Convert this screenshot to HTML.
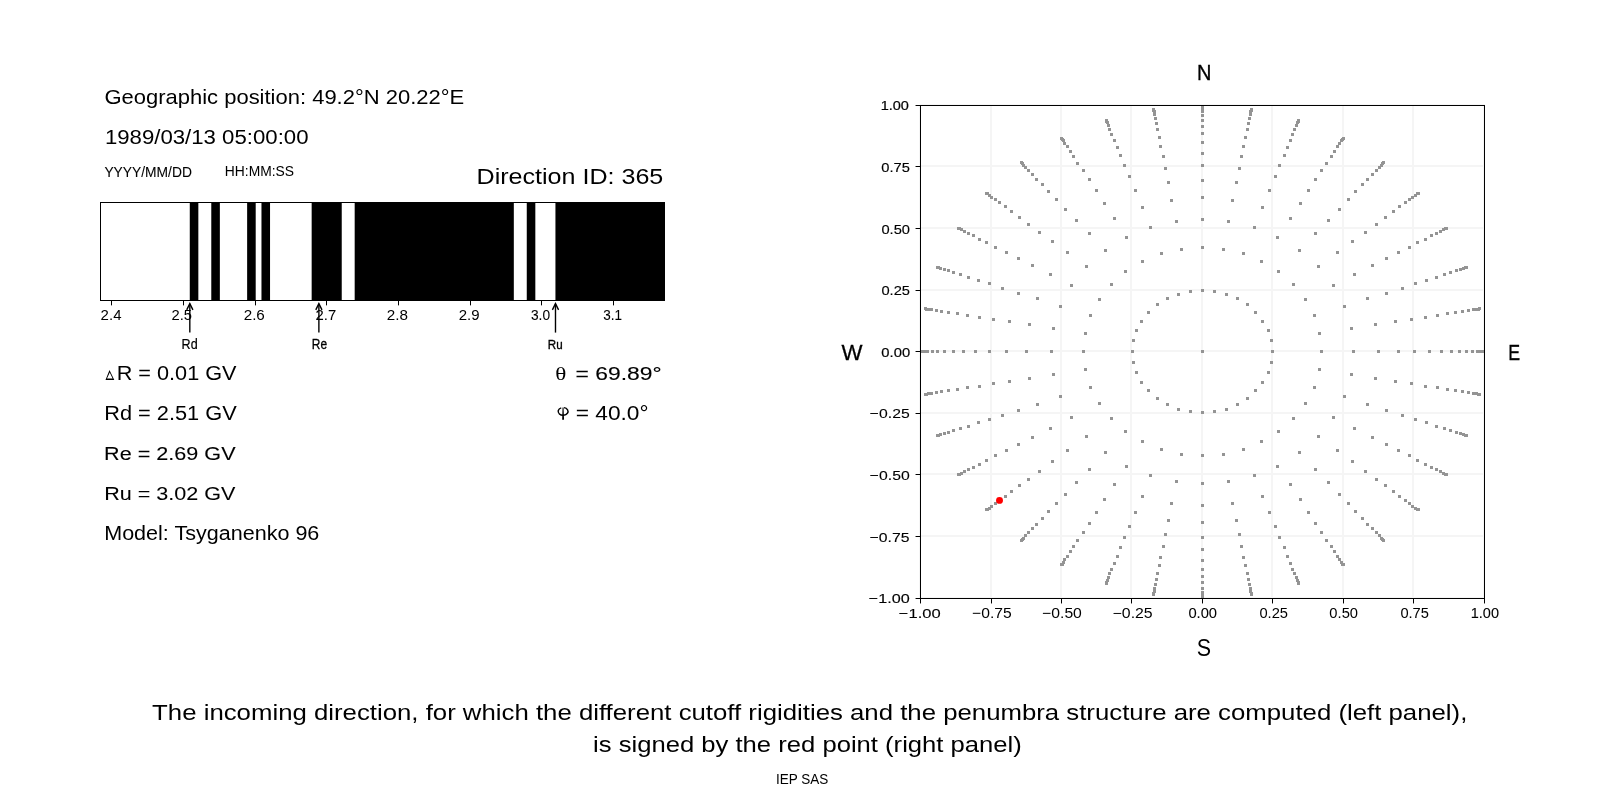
<!DOCTYPE html><html><head><meta charset="utf-8"><title>Cutoff rigidity</title><style>html,body{margin:0;padding:0;background:#fff;width:1600px;height:800px;overflow:hidden}svg{display:block;will-change:transform}text{fill:#000;white-space:pre}</style></head><body>
<svg width="1600" height="800" viewBox="0 0 1600 800">
<rect x="0" y="0" width="1600" height="800" fill="#fff"/>
<defs><clipPath id="cb"><rect x="100" y="202" width="565" height="99"/></clipPath><clipPath id="cr"><rect x="920" y="105" width="565" height="494"/></clipPath></defs>
<g clip-path="url(#cb)" fill="#000">
<rect x="189.77" y="202" width="8.57" height="99"/>
<rect x="211.28" y="202" width="8.57" height="99"/>
<rect x="247.13" y="202" width="8.57" height="99"/>
<rect x="261.47" y="202" width="8.57" height="99"/>
<rect x="311.66" y="202" width="30.08" height="99"/>
<rect x="354.68" y="202" width="159.14" height="99"/>
<rect x="526.76" y="202" width="8.57" height="99"/>
<rect x="555.44" y="202" width="202.16" height="99"/>
</g>
<g fill="#000" shape-rendering="crispEdges">
<rect x="100" y="202" width="565" height="1"/><rect x="100" y="300" width="565" height="1"/>
<rect x="100" y="202" width="1" height="99"/><rect x="664" y="202" width="1" height="99"/>
<rect x="111" y="301" width="1" height="4"/>
<rect x="183" y="301" width="1" height="4"/>
<rect x="255" y="301" width="1" height="4"/>
<rect x="326" y="301" width="1" height="4"/>
<rect x="398" y="301" width="1" height="4"/>
<rect x="470" y="301" width="1" height="4"/>
<rect x="541" y="301" width="1" height="4"/>
<rect x="613" y="301" width="1" height="4"/>
</g>
<rect x="111" y="305" width="1" height="0.6" fill="#000" opacity="0.6"/>
<rect x="183" y="305" width="1" height="0.6" fill="#000" opacity="0.6"/>
<rect x="255" y="305" width="1" height="0.6" fill="#000" opacity="0.6"/>
<rect x="326" y="305" width="1" height="0.6" fill="#000" opacity="0.6"/>
<rect x="398" y="305" width="1" height="0.6" fill="#000" opacity="0.6"/>
<rect x="470" y="305" width="1" height="0.6" fill="#000" opacity="0.6"/>
<rect x="541" y="305" width="1" height="0.6" fill="#000" opacity="0.6"/>
<rect x="613" y="305" width="1" height="0.6" fill="#000" opacity="0.6"/>
<g stroke="#000" stroke-width="1.39" fill="none" stroke-linecap="butt" stroke-linejoin="miter">
<path d="M189.82 332.6 L189.82 303.8"/>
<path d="M186.72 309.9 L189.82 303.6 L192.92 309.9"/>
<path d="M318.88 332.6 L318.88 303.8"/>
<path d="M315.78 309.9 L318.88 303.6 L321.98 309.9"/>
<path d="M555.49 332.6 L555.49 303.8"/>
<path d="M552.39 309.9 L555.49 303.6 L558.59 309.9"/>
</g>
<g fill="#f5f5f5" shape-rendering="crispEdges">
<rect x="919" y="105" width="2" height="494"/>
<rect x="920" y="597" width="565" height="2"/>
<rect x="990" y="105" width="2" height="494"/>
<rect x="920" y="535" width="565" height="2"/>
<rect x="1060" y="105" width="2" height="494"/>
<rect x="920" y="473" width="565" height="2"/>
<rect x="1130" y="105" width="2" height="494"/>
<rect x="920" y="412" width="565" height="2"/>
<rect x="1201" y="105" width="2" height="494"/>
<rect x="920" y="350" width="565" height="2"/>
<rect x="1271" y="105" width="2" height="494"/>
<rect x="920" y="289" width="565" height="2"/>
<rect x="1342" y="105" width="2" height="494"/>
<rect x="920" y="227" width="565" height="2"/>
<rect x="1412" y="105" width="2" height="494"/>
<rect x="920" y="165" width="565" height="2"/>
<rect x="1483" y="105" width="2" height="494"/>
<rect x="920" y="104" width="565" height="2"/>
</g>
<g clip-path="url(#cr)" fill="#949494" shape-rendering="crispEdges">
<rect x="1201" y="350" width="3" height="3"/>
<rect x="1271" y="350" width="3" height="3"/>
<rect x="1320" y="350" width="3" height="3"/>
<rect x="1352" y="350" width="3" height="3"/>
<rect x="1377" y="350" width="3" height="3"/>
<rect x="1397" y="350" width="3" height="3"/>
<rect x="1413" y="350" width="3" height="3"/>
<rect x="1428" y="350" width="3" height="3"/>
<rect x="1440" y="350" width="3" height="3"/>
<rect x="1450" y="350" width="3" height="3"/>
<rect x="1458" y="350" width="3" height="3"/>
<rect x="1465" y="350" width="3" height="3"/>
<rect x="1471" y="350" width="3" height="3"/>
<rect x="1476" y="350" width="3" height="3"/>
<rect x="1479" y="350" width="3" height="3"/>
<rect x="1481" y="350" width="3" height="3"/>
<rect x="1482" y="350" width="3" height="3"/>
<rect x="1270" y="339" width="3" height="3"/>
<rect x="1318" y="332" width="3" height="3"/>
<rect x="1350" y="327" width="3" height="3"/>
<rect x="1374" y="323" width="3" height="3"/>
<rect x="1394" y="320" width="3" height="3"/>
<rect x="1410" y="318" width="3" height="3"/>
<rect x="1424" y="316" width="3" height="3"/>
<rect x="1436" y="314" width="3" height="3"/>
<rect x="1446" y="312" width="3" height="3"/>
<rect x="1454" y="311" width="3" height="3"/>
<rect x="1461" y="310" width="3" height="3"/>
<rect x="1467" y="309" width="3" height="3"/>
<rect x="1472" y="308" width="3" height="3"/>
<rect x="1475" y="308" width="3" height="3"/>
<rect x="1477" y="308" width="3" height="3"/>
<rect x="1478" y="307" width="3" height="3"/>
<rect x="1267" y="329" width="3" height="3"/>
<rect x="1313" y="314" width="3" height="3"/>
<rect x="1343" y="305" width="3" height="3"/>
<rect x="1366" y="297" width="3" height="3"/>
<rect x="1385" y="292" width="3" height="3"/>
<rect x="1401" y="287" width="3" height="3"/>
<rect x="1414" y="282" width="3" height="3"/>
<rect x="1425" y="279" width="3" height="3"/>
<rect x="1435" y="276" width="3" height="3"/>
<rect x="1443" y="273" width="3" height="3"/>
<rect x="1449" y="271" width="3" height="3"/>
<rect x="1455" y="269" width="3" height="3"/>
<rect x="1459" y="268" width="3" height="3"/>
<rect x="1462" y="267" width="3" height="3"/>
<rect x="1464" y="266" width="3" height="3"/>
<rect x="1465" y="266" width="3" height="3"/>
<rect x="1261" y="320" width="3" height="3"/>
<rect x="1304" y="298" width="3" height="3"/>
<rect x="1332" y="284" width="3" height="3"/>
<rect x="1353" y="273" width="3" height="3"/>
<rect x="1371" y="264" width="3" height="3"/>
<rect x="1385" y="257" width="3" height="3"/>
<rect x="1397" y="251" width="3" height="3"/>
<rect x="1408" y="246" width="3" height="3"/>
<rect x="1416" y="241" width="3" height="3"/>
<rect x="1424" y="238" width="3" height="3"/>
<rect x="1430" y="234" width="3" height="3"/>
<rect x="1435" y="232" width="3" height="3"/>
<rect x="1439" y="230" width="3" height="3"/>
<rect x="1442" y="228" width="3" height="3"/>
<rect x="1444" y="227" width="3" height="3"/>
<rect x="1445" y="227" width="3" height="3"/>
<rect x="1254" y="311" width="3" height="3"/>
<rect x="1292" y="283" width="3" height="3"/>
<rect x="1317" y="265" width="3" height="3"/>
<rect x="1336" y="251" width="3" height="3"/>
<rect x="1351" y="240" width="3" height="3"/>
<rect x="1364" y="231" width="3" height="3"/>
<rect x="1375" y="223" width="3" height="3"/>
<rect x="1384" y="216" width="3" height="3"/>
<rect x="1392" y="210" width="3" height="3"/>
<rect x="1398" y="205" width="3" height="3"/>
<rect x="1404" y="201" width="3" height="3"/>
<rect x="1408" y="198" width="3" height="3"/>
<rect x="1411" y="196" width="3" height="3"/>
<rect x="1414" y="194" width="3" height="3"/>
<rect x="1416" y="192" width="3" height="3"/>
<rect x="1417" y="192" width="3" height="3"/>
<rect x="1246" y="303" width="3" height="3"/>
<rect x="1277" y="270" width="3" height="3"/>
<rect x="1298" y="249" width="3" height="3"/>
<rect x="1314" y="232" width="3" height="3"/>
<rect x="1327" y="219" width="3" height="3"/>
<rect x="1338" y="208" width="3" height="3"/>
<rect x="1347" y="198" width="3" height="3"/>
<rect x="1354" y="190" width="3" height="3"/>
<rect x="1361" y="183" width="3" height="3"/>
<rect x="1366" y="178" width="3" height="3"/>
<rect x="1371" y="173" width="3" height="3"/>
<rect x="1375" y="169" width="3" height="3"/>
<rect x="1378" y="166" width="3" height="3"/>
<rect x="1380" y="164" width="3" height="3"/>
<rect x="1381" y="162" width="3" height="3"/>
<rect x="1382" y="161" width="3" height="3"/>
<rect x="1236" y="297" width="3" height="3"/>
<rect x="1260" y="260" width="3" height="3"/>
<rect x="1276" y="236" width="3" height="3"/>
<rect x="1289" y="217" width="3" height="3"/>
<rect x="1299" y="202" width="3" height="3"/>
<rect x="1307" y="189" width="3" height="3"/>
<rect x="1314" y="178" width="3" height="3"/>
<rect x="1320" y="169" width="3" height="3"/>
<rect x="1325" y="162" width="3" height="3"/>
<rect x="1330" y="155" width="3" height="3"/>
<rect x="1333" y="150" width="3" height="3"/>
<rect x="1336" y="145" width="3" height="3"/>
<rect x="1338" y="142" width="3" height="3"/>
<rect x="1340" y="139" width="3" height="3"/>
<rect x="1341" y="138" width="3" height="3"/>
<rect x="1342" y="137" width="3" height="3"/>
<rect x="1225" y="293" width="3" height="3"/>
<rect x="1242" y="252" width="3" height="3"/>
<rect x="1253" y="226" width="3" height="3"/>
<rect x="1261" y="206" width="3" height="3"/>
<rect x="1268" y="189" width="3" height="3"/>
<rect x="1274" y="175" width="3" height="3"/>
<rect x="1278" y="164" width="3" height="3"/>
<rect x="1283" y="154" width="3" height="3"/>
<rect x="1286" y="146" width="3" height="3"/>
<rect x="1289" y="139" width="3" height="3"/>
<rect x="1291" y="133" width="3" height="3"/>
<rect x="1293" y="128" width="3" height="3"/>
<rect x="1295" y="124" width="3" height="3"/>
<rect x="1296" y="121" width="3" height="3"/>
<rect x="1297" y="120" width="3" height="3"/>
<rect x="1297" y="119" width="3" height="3"/>
<rect x="1213" y="290" width="3" height="3"/>
<rect x="1222" y="248" width="3" height="3"/>
<rect x="1227" y="220" width="3" height="3"/>
<rect x="1231" y="199" width="3" height="3"/>
<rect x="1235" y="181" width="3" height="3"/>
<rect x="1238" y="167" width="3" height="3"/>
<rect x="1240" y="155" width="3" height="3"/>
<rect x="1242" y="145" width="3" height="3"/>
<rect x="1244" y="136" width="3" height="3"/>
<rect x="1246" y="128" width="3" height="3"/>
<rect x="1247" y="122" width="3" height="3"/>
<rect x="1248" y="117" width="3" height="3"/>
<rect x="1249" y="113" width="3" height="3"/>
<rect x="1249" y="110" width="3" height="3"/>
<rect x="1250" y="109" width="3" height="3"/>
<rect x="1250" y="108" width="3" height="3"/>
<rect x="1201" y="289" width="3" height="3"/>
<rect x="1201" y="246" width="3" height="3"/>
<rect x="1201" y="218" width="3" height="3"/>
<rect x="1201" y="196" width="3" height="3"/>
<rect x="1201" y="179" width="3" height="3"/>
<rect x="1201" y="164" width="3" height="3"/>
<rect x="1201" y="152" width="3" height="3"/>
<rect x="1201" y="141" width="3" height="3"/>
<rect x="1201" y="132" width="3" height="3"/>
<rect x="1201" y="125" width="3" height="3"/>
<rect x="1201" y="119" width="3" height="3"/>
<rect x="1201" y="114" width="3" height="3"/>
<rect x="1201" y="110" width="3" height="3"/>
<rect x="1201" y="107" width="3" height="3"/>
<rect x="1201" y="105" width="3" height="3"/>
<rect x="1201" y="104" width="3" height="3"/>
<rect x="1189" y="290" width="3" height="3"/>
<rect x="1180" y="248" width="3" height="3"/>
<rect x="1175" y="220" width="3" height="3"/>
<rect x="1170" y="199" width="3" height="3"/>
<rect x="1167" y="181" width="3" height="3"/>
<rect x="1164" y="167" width="3" height="3"/>
<rect x="1162" y="155" width="3" height="3"/>
<rect x="1159" y="145" width="3" height="3"/>
<rect x="1158" y="136" width="3" height="3"/>
<rect x="1156" y="128" width="3" height="3"/>
<rect x="1155" y="122" width="3" height="3"/>
<rect x="1154" y="117" width="3" height="3"/>
<rect x="1153" y="113" width="3" height="3"/>
<rect x="1153" y="110" width="3" height="3"/>
<rect x="1152" y="109" width="3" height="3"/>
<rect x="1152" y="108" width="3" height="3"/>
<rect x="1177" y="293" width="3" height="3"/>
<rect x="1160" y="252" width="3" height="3"/>
<rect x="1149" y="226" width="3" height="3"/>
<rect x="1141" y="206" width="3" height="3"/>
<rect x="1134" y="189" width="3" height="3"/>
<rect x="1128" y="175" width="3" height="3"/>
<rect x="1123" y="164" width="3" height="3"/>
<rect x="1119" y="154" width="3" height="3"/>
<rect x="1116" y="146" width="3" height="3"/>
<rect x="1113" y="139" width="3" height="3"/>
<rect x="1110" y="133" width="3" height="3"/>
<rect x="1108" y="128" width="3" height="3"/>
<rect x="1107" y="124" width="3" height="3"/>
<rect x="1106" y="121" width="3" height="3"/>
<rect x="1105" y="120" width="3" height="3"/>
<rect x="1105" y="119" width="3" height="3"/>
<rect x="1166" y="297" width="3" height="3"/>
<rect x="1141" y="260" width="3" height="3"/>
<rect x="1125" y="236" width="3" height="3"/>
<rect x="1113" y="217" width="3" height="3"/>
<rect x="1103" y="202" width="3" height="3"/>
<rect x="1095" y="189" width="3" height="3"/>
<rect x="1088" y="178" width="3" height="3"/>
<rect x="1082" y="169" width="3" height="3"/>
<rect x="1076" y="162" width="3" height="3"/>
<rect x="1072" y="155" width="3" height="3"/>
<rect x="1069" y="150" width="3" height="3"/>
<rect x="1066" y="145" width="3" height="3"/>
<rect x="1063" y="142" width="3" height="3"/>
<rect x="1062" y="139" width="3" height="3"/>
<rect x="1061" y="138" width="3" height="3"/>
<rect x="1060" y="137" width="3" height="3"/>
<rect x="1156" y="303" width="3" height="3"/>
<rect x="1124" y="270" width="3" height="3"/>
<rect x="1104" y="249" width="3" height="3"/>
<rect x="1088" y="232" width="3" height="3"/>
<rect x="1075" y="219" width="3" height="3"/>
<rect x="1064" y="208" width="3" height="3"/>
<rect x="1055" y="198" width="3" height="3"/>
<rect x="1047" y="190" width="3" height="3"/>
<rect x="1041" y="183" width="3" height="3"/>
<rect x="1035" y="178" width="3" height="3"/>
<rect x="1031" y="173" width="3" height="3"/>
<rect x="1027" y="169" width="3" height="3"/>
<rect x="1024" y="166" width="3" height="3"/>
<rect x="1022" y="164" width="3" height="3"/>
<rect x="1021" y="162" width="3" height="3"/>
<rect x="1020" y="161" width="3" height="3"/>
<rect x="1147" y="311" width="3" height="3"/>
<rect x="1110" y="283" width="3" height="3"/>
<rect x="1085" y="265" width="3" height="3"/>
<rect x="1066" y="251" width="3" height="3"/>
<rect x="1051" y="240" width="3" height="3"/>
<rect x="1038" y="231" width="3" height="3"/>
<rect x="1027" y="223" width="3" height="3"/>
<rect x="1018" y="216" width="3" height="3"/>
<rect x="1010" y="210" width="3" height="3"/>
<rect x="1004" y="205" width="3" height="3"/>
<rect x="998" y="201" width="3" height="3"/>
<rect x="994" y="198" width="3" height="3"/>
<rect x="990" y="196" width="3" height="3"/>
<rect x="988" y="194" width="3" height="3"/>
<rect x="986" y="192" width="3" height="3"/>
<rect x="985" y="192" width="3" height="3"/>
<rect x="1140" y="320" width="3" height="3"/>
<rect x="1098" y="298" width="3" height="3"/>
<rect x="1070" y="284" width="3" height="3"/>
<rect x="1049" y="273" width="3" height="3"/>
<rect x="1031" y="264" width="3" height="3"/>
<rect x="1017" y="257" width="3" height="3"/>
<rect x="1005" y="251" width="3" height="3"/>
<rect x="994" y="246" width="3" height="3"/>
<rect x="985" y="241" width="3" height="3"/>
<rect x="978" y="238" width="3" height="3"/>
<rect x="972" y="234" width="3" height="3"/>
<rect x="967" y="232" width="3" height="3"/>
<rect x="963" y="230" width="3" height="3"/>
<rect x="960" y="228" width="3" height="3"/>
<rect x="958" y="227" width="3" height="3"/>
<rect x="957" y="227" width="3" height="3"/>
<rect x="1135" y="329" width="3" height="3"/>
<rect x="1089" y="314" width="3" height="3"/>
<rect x="1059" y="305" width="3" height="3"/>
<rect x="1036" y="297" width="3" height="3"/>
<rect x="1017" y="292" width="3" height="3"/>
<rect x="1001" y="287" width="3" height="3"/>
<rect x="988" y="282" width="3" height="3"/>
<rect x="977" y="279" width="3" height="3"/>
<rect x="967" y="276" width="3" height="3"/>
<rect x="959" y="273" width="3" height="3"/>
<rect x="952" y="271" width="3" height="3"/>
<rect x="947" y="269" width="3" height="3"/>
<rect x="943" y="268" width="3" height="3"/>
<rect x="939" y="267" width="3" height="3"/>
<rect x="937" y="266" width="3" height="3"/>
<rect x="936" y="266" width="3" height="3"/>
<rect x="1132" y="339" width="3" height="3"/>
<rect x="1084" y="332" width="3" height="3"/>
<rect x="1052" y="327" width="3" height="3"/>
<rect x="1028" y="323" width="3" height="3"/>
<rect x="1008" y="320" width="3" height="3"/>
<rect x="992" y="318" width="3" height="3"/>
<rect x="978" y="316" width="3" height="3"/>
<rect x="966" y="314" width="3" height="3"/>
<rect x="956" y="312" width="3" height="3"/>
<rect x="947" y="311" width="3" height="3"/>
<rect x="940" y="310" width="3" height="3"/>
<rect x="935" y="309" width="3" height="3"/>
<rect x="930" y="308" width="3" height="3"/>
<rect x="927" y="308" width="3" height="3"/>
<rect x="925" y="308" width="3" height="3"/>
<rect x="924" y="307" width="3" height="3"/>
<rect x="1131" y="350" width="3" height="3"/>
<rect x="1082" y="350" width="3" height="3"/>
<rect x="1050" y="350" width="3" height="3"/>
<rect x="1025" y="350" width="3" height="3"/>
<rect x="1005" y="350" width="3" height="3"/>
<rect x="988" y="350" width="3" height="3"/>
<rect x="974" y="350" width="3" height="3"/>
<rect x="962" y="350" width="3" height="3"/>
<rect x="952" y="350" width="3" height="3"/>
<rect x="943" y="350" width="3" height="3"/>
<rect x="936" y="350" width="3" height="3"/>
<rect x="931" y="350" width="3" height="3"/>
<rect x="926" y="350" width="3" height="3"/>
<rect x="923" y="350" width="3" height="3"/>
<rect x="920" y="350" width="3" height="3"/>
<rect x="919" y="350" width="3" height="3"/>
<rect x="1132" y="361" width="3" height="3"/>
<rect x="1084" y="368" width="3" height="3"/>
<rect x="1052" y="373" width="3" height="3"/>
<rect x="1028" y="377" width="3" height="3"/>
<rect x="1008" y="380" width="3" height="3"/>
<rect x="992" y="382" width="3" height="3"/>
<rect x="978" y="385" width="3" height="3"/>
<rect x="966" y="386" width="3" height="3"/>
<rect x="956" y="388" width="3" height="3"/>
<rect x="947" y="389" width="3" height="3"/>
<rect x="940" y="390" width="3" height="3"/>
<rect x="935" y="391" width="3" height="3"/>
<rect x="930" y="392" width="3" height="3"/>
<rect x="927" y="392" width="3" height="3"/>
<rect x="925" y="393" width="3" height="3"/>
<rect x="924" y="393" width="3" height="3"/>
<rect x="1135" y="371" width="3" height="3"/>
<rect x="1089" y="386" width="3" height="3"/>
<rect x="1059" y="395" width="3" height="3"/>
<rect x="1036" y="403" width="3" height="3"/>
<rect x="1017" y="409" width="3" height="3"/>
<rect x="1001" y="414" width="3" height="3"/>
<rect x="988" y="418" width="3" height="3"/>
<rect x="977" y="421" width="3" height="3"/>
<rect x="967" y="425" width="3" height="3"/>
<rect x="959" y="427" width="3" height="3"/>
<rect x="952" y="429" width="3" height="3"/>
<rect x="947" y="431" width="3" height="3"/>
<rect x="943" y="432" width="3" height="3"/>
<rect x="939" y="433" width="3" height="3"/>
<rect x="937" y="434" width="3" height="3"/>
<rect x="936" y="434" width="3" height="3"/>
<rect x="1140" y="381" width="3" height="3"/>
<rect x="1098" y="402" width="3" height="3"/>
<rect x="1070" y="416" width="3" height="3"/>
<rect x="1049" y="427" width="3" height="3"/>
<rect x="1031" y="436" width="3" height="3"/>
<rect x="1017" y="443" width="3" height="3"/>
<rect x="1005" y="449" width="3" height="3"/>
<rect x="994" y="454" width="3" height="3"/>
<rect x="985" y="459" width="3" height="3"/>
<rect x="978" y="463" width="3" height="3"/>
<rect x="972" y="466" width="3" height="3"/>
<rect x="967" y="468" width="3" height="3"/>
<rect x="963" y="470" width="3" height="3"/>
<rect x="960" y="472" width="3" height="3"/>
<rect x="958" y="473" width="3" height="3"/>
<rect x="957" y="473" width="3" height="3"/>
<rect x="1147" y="389" width="3" height="3"/>
<rect x="1110" y="417" width="3" height="3"/>
<rect x="1085" y="435" width="3" height="3"/>
<rect x="1066" y="449" width="3" height="3"/>
<rect x="1051" y="460" width="3" height="3"/>
<rect x="1038" y="470" width="3" height="3"/>
<rect x="1027" y="478" width="3" height="3"/>
<rect x="1018" y="484" width="3" height="3"/>
<rect x="1010" y="490" width="3" height="3"/>
<rect x="1004" y="495" width="3" height="3"/>
<rect x="994" y="502" width="3" height="3"/>
<rect x="990" y="505" width="3" height="3"/>
<rect x="988" y="507" width="3" height="3"/>
<rect x="986" y="508" width="3" height="3"/>
<rect x="985" y="508" width="3" height="3"/>
<rect x="1156" y="397" width="3" height="3"/>
<rect x="1124" y="430" width="3" height="3"/>
<rect x="1104" y="451" width="3" height="3"/>
<rect x="1088" y="468" width="3" height="3"/>
<rect x="1075" y="481" width="3" height="3"/>
<rect x="1064" y="493" width="3" height="3"/>
<rect x="1055" y="502" width="3" height="3"/>
<rect x="1047" y="510" width="3" height="3"/>
<rect x="1041" y="517" width="3" height="3"/>
<rect x="1035" y="523" width="3" height="3"/>
<rect x="1031" y="527" width="3" height="3"/>
<rect x="1027" y="531" width="3" height="3"/>
<rect x="1024" y="534" width="3" height="3"/>
<rect x="1022" y="537" width="3" height="3"/>
<rect x="1021" y="538" width="3" height="3"/>
<rect x="1020" y="539" width="3" height="3"/>
<rect x="1166" y="403" width="3" height="3"/>
<rect x="1141" y="440" width="3" height="3"/>
<rect x="1125" y="465" width="3" height="3"/>
<rect x="1113" y="483" width="3" height="3"/>
<rect x="1103" y="498" width="3" height="3"/>
<rect x="1095" y="511" width="3" height="3"/>
<rect x="1088" y="522" width="3" height="3"/>
<rect x="1082" y="531" width="3" height="3"/>
<rect x="1076" y="539" width="3" height="3"/>
<rect x="1072" y="545" width="3" height="3"/>
<rect x="1069" y="550" width="3" height="3"/>
<rect x="1066" y="555" width="3" height="3"/>
<rect x="1063" y="558" width="3" height="3"/>
<rect x="1062" y="561" width="3" height="3"/>
<rect x="1061" y="563" width="3" height="3"/>
<rect x="1060" y="563" width="3" height="3"/>
<rect x="1177" y="408" width="3" height="3"/>
<rect x="1160" y="448" width="3" height="3"/>
<rect x="1149" y="474" width="3" height="3"/>
<rect x="1141" y="495" width="3" height="3"/>
<rect x="1134" y="511" width="3" height="3"/>
<rect x="1128" y="525" width="3" height="3"/>
<rect x="1123" y="536" width="3" height="3"/>
<rect x="1119" y="546" width="3" height="3"/>
<rect x="1116" y="555" width="3" height="3"/>
<rect x="1113" y="562" width="3" height="3"/>
<rect x="1110" y="568" width="3" height="3"/>
<rect x="1108" y="572" width="3" height="3"/>
<rect x="1107" y="576" width="3" height="3"/>
<rect x="1106" y="579" width="3" height="3"/>
<rect x="1105" y="581" width="3" height="3"/>
<rect x="1105" y="582" width="3" height="3"/>
<rect x="1189" y="410" width="3" height="3"/>
<rect x="1180" y="453" width="3" height="3"/>
<rect x="1175" y="480" width="3" height="3"/>
<rect x="1170" y="502" width="3" height="3"/>
<rect x="1167" y="519" width="3" height="3"/>
<rect x="1164" y="533" width="3" height="3"/>
<rect x="1162" y="545" width="3" height="3"/>
<rect x="1159" y="556" width="3" height="3"/>
<rect x="1158" y="564" width="3" height="3"/>
<rect x="1156" y="572" width="3" height="3"/>
<rect x="1155" y="578" width="3" height="3"/>
<rect x="1154" y="583" width="3" height="3"/>
<rect x="1153" y="587" width="3" height="3"/>
<rect x="1153" y="590" width="3" height="3"/>
<rect x="1152" y="592" width="3" height="3"/>
<rect x="1152" y="593" width="3" height="3"/>
<rect x="1201" y="411" width="3" height="3"/>
<rect x="1201" y="454" width="3" height="3"/>
<rect x="1201" y="482" width="3" height="3"/>
<rect x="1201" y="504" width="3" height="3"/>
<rect x="1201" y="521" width="3" height="3"/>
<rect x="1201" y="536" width="3" height="3"/>
<rect x="1201" y="548" width="3" height="3"/>
<rect x="1201" y="559" width="3" height="3"/>
<rect x="1201" y="568" width="3" height="3"/>
<rect x="1201" y="575" width="3" height="3"/>
<rect x="1201" y="581" width="3" height="3"/>
<rect x="1201" y="587" width="3" height="3"/>
<rect x="1201" y="591" width="3" height="3"/>
<rect x="1201" y="593" width="3" height="3"/>
<rect x="1201" y="595" width="3" height="3"/>
<rect x="1201" y="596" width="3" height="3"/>
<rect x="1213" y="410" width="3" height="3"/>
<rect x="1222" y="453" width="3" height="3"/>
<rect x="1227" y="480" width="3" height="3"/>
<rect x="1231" y="502" width="3" height="3"/>
<rect x="1235" y="519" width="3" height="3"/>
<rect x="1238" y="533" width="3" height="3"/>
<rect x="1240" y="545" width="3" height="3"/>
<rect x="1242" y="556" width="3" height="3"/>
<rect x="1244" y="564" width="3" height="3"/>
<rect x="1246" y="572" width="3" height="3"/>
<rect x="1247" y="578" width="3" height="3"/>
<rect x="1248" y="583" width="3" height="3"/>
<rect x="1249" y="587" width="3" height="3"/>
<rect x="1249" y="590" width="3" height="3"/>
<rect x="1250" y="592" width="3" height="3"/>
<rect x="1250" y="593" width="3" height="3"/>
<rect x="1225" y="408" width="3" height="3"/>
<rect x="1242" y="448" width="3" height="3"/>
<rect x="1253" y="474" width="3" height="3"/>
<rect x="1261" y="495" width="3" height="3"/>
<rect x="1268" y="511" width="3" height="3"/>
<rect x="1274" y="525" width="3" height="3"/>
<rect x="1278" y="536" width="3" height="3"/>
<rect x="1283" y="546" width="3" height="3"/>
<rect x="1286" y="555" width="3" height="3"/>
<rect x="1289" y="562" width="3" height="3"/>
<rect x="1291" y="568" width="3" height="3"/>
<rect x="1293" y="572" width="3" height="3"/>
<rect x="1295" y="576" width="3" height="3"/>
<rect x="1296" y="579" width="3" height="3"/>
<rect x="1297" y="581" width="3" height="3"/>
<rect x="1297" y="582" width="3" height="3"/>
<rect x="1236" y="403" width="3" height="3"/>
<rect x="1260" y="440" width="3" height="3"/>
<rect x="1276" y="465" width="3" height="3"/>
<rect x="1289" y="483" width="3" height="3"/>
<rect x="1299" y="498" width="3" height="3"/>
<rect x="1307" y="511" width="3" height="3"/>
<rect x="1314" y="522" width="3" height="3"/>
<rect x="1320" y="531" width="3" height="3"/>
<rect x="1325" y="539" width="3" height="3"/>
<rect x="1330" y="545" width="3" height="3"/>
<rect x="1333" y="550" width="3" height="3"/>
<rect x="1336" y="555" width="3" height="3"/>
<rect x="1338" y="558" width="3" height="3"/>
<rect x="1340" y="561" width="3" height="3"/>
<rect x="1341" y="563" width="3" height="3"/>
<rect x="1342" y="563" width="3" height="3"/>
<rect x="1246" y="397" width="3" height="3"/>
<rect x="1277" y="430" width="3" height="3"/>
<rect x="1298" y="451" width="3" height="3"/>
<rect x="1314" y="468" width="3" height="3"/>
<rect x="1327" y="481" width="3" height="3"/>
<rect x="1338" y="493" width="3" height="3"/>
<rect x="1347" y="502" width="3" height="3"/>
<rect x="1354" y="510" width="3" height="3"/>
<rect x="1361" y="517" width="3" height="3"/>
<rect x="1366" y="523" width="3" height="3"/>
<rect x="1371" y="527" width="3" height="3"/>
<rect x="1375" y="531" width="3" height="3"/>
<rect x="1378" y="534" width="3" height="3"/>
<rect x="1380" y="537" width="3" height="3"/>
<rect x="1381" y="538" width="3" height="3"/>
<rect x="1382" y="539" width="3" height="3"/>
<rect x="1254" y="389" width="3" height="3"/>
<rect x="1292" y="417" width="3" height="3"/>
<rect x="1317" y="435" width="3" height="3"/>
<rect x="1336" y="449" width="3" height="3"/>
<rect x="1351" y="460" width="3" height="3"/>
<rect x="1364" y="470" width="3" height="3"/>
<rect x="1375" y="478" width="3" height="3"/>
<rect x="1384" y="484" width="3" height="3"/>
<rect x="1392" y="490" width="3" height="3"/>
<rect x="1398" y="495" width="3" height="3"/>
<rect x="1404" y="499" width="3" height="3"/>
<rect x="1408" y="502" width="3" height="3"/>
<rect x="1411" y="505" width="3" height="3"/>
<rect x="1414" y="507" width="3" height="3"/>
<rect x="1416" y="508" width="3" height="3"/>
<rect x="1417" y="508" width="3" height="3"/>
<rect x="1261" y="381" width="3" height="3"/>
<rect x="1304" y="402" width="3" height="3"/>
<rect x="1332" y="416" width="3" height="3"/>
<rect x="1353" y="427" width="3" height="3"/>
<rect x="1371" y="436" width="3" height="3"/>
<rect x="1385" y="443" width="3" height="3"/>
<rect x="1397" y="449" width="3" height="3"/>
<rect x="1408" y="454" width="3" height="3"/>
<rect x="1416" y="459" width="3" height="3"/>
<rect x="1424" y="463" width="3" height="3"/>
<rect x="1430" y="466" width="3" height="3"/>
<rect x="1435" y="468" width="3" height="3"/>
<rect x="1439" y="470" width="3" height="3"/>
<rect x="1442" y="472" width="3" height="3"/>
<rect x="1444" y="473" width="3" height="3"/>
<rect x="1445" y="473" width="3" height="3"/>
<rect x="1267" y="371" width="3" height="3"/>
<rect x="1313" y="386" width="3" height="3"/>
<rect x="1343" y="395" width="3" height="3"/>
<rect x="1366" y="403" width="3" height="3"/>
<rect x="1385" y="409" width="3" height="3"/>
<rect x="1401" y="414" width="3" height="3"/>
<rect x="1414" y="418" width="3" height="3"/>
<rect x="1425" y="421" width="3" height="3"/>
<rect x="1435" y="425" width="3" height="3"/>
<rect x="1443" y="427" width="3" height="3"/>
<rect x="1449" y="429" width="3" height="3"/>
<rect x="1455" y="431" width="3" height="3"/>
<rect x="1459" y="432" width="3" height="3"/>
<rect x="1462" y="433" width="3" height="3"/>
<rect x="1464" y="434" width="3" height="3"/>
<rect x="1465" y="434" width="3" height="3"/>
<rect x="1270" y="361" width="3" height="3"/>
<rect x="1318" y="368" width="3" height="3"/>
<rect x="1350" y="373" width="3" height="3"/>
<rect x="1374" y="377" width="3" height="3"/>
<rect x="1394" y="380" width="3" height="3"/>
<rect x="1410" y="382" width="3" height="3"/>
<rect x="1424" y="385" width="3" height="3"/>
<rect x="1436" y="386" width="3" height="3"/>
<rect x="1446" y="388" width="3" height="3"/>
<rect x="1454" y="389" width="3" height="3"/>
<rect x="1461" y="390" width="3" height="3"/>
<rect x="1467" y="391" width="3" height="3"/>
<rect x="1472" y="392" width="3" height="3"/>
<rect x="1475" y="392" width="3" height="3"/>
<rect x="1477" y="393" width="3" height="3"/>
<rect x="1478" y="393" width="3" height="3"/>
</g>
<circle cx="999.51" cy="500.40" r="3.45" fill="#ff0000"/>
<g fill="#000" shape-rendering="crispEdges">
<rect x="920" y="105" width="565" height="1"/><rect x="920" y="598" width="565" height="1"/>
<rect x="920" y="105" width="1" height="494"/><rect x="1484" y="105" width="1" height="494"/>
<rect x="920" y="599" width="1" height="4"/>
<rect x="920" y="603" width="1" height="1" fill-opacity="0.45"/>
<rect x="916" y="598" width="4" height="1"/>
<rect x="915" y="598" width="1" height="1" fill-opacity="0.45"/>
<rect x="991" y="599" width="1" height="4"/>
<rect x="991" y="603" width="1" height="1" fill-opacity="0.45"/>
<rect x="916" y="536" width="4" height="1"/>
<rect x="915" y="536" width="1" height="1" fill-opacity="0.45"/>
<rect x="1061" y="599" width="1" height="4"/>
<rect x="1061" y="603" width="1" height="1" fill-opacity="0.45"/>
<rect x="916" y="474" width="4" height="1"/>
<rect x="915" y="474" width="1" height="1" fill-opacity="0.45"/>
<rect x="1131" y="599" width="1" height="4"/>
<rect x="1131" y="603" width="1" height="1" fill-opacity="0.45"/>
<rect x="916" y="413" width="4" height="1"/>
<rect x="915" y="413" width="1" height="1" fill-opacity="0.45"/>
<rect x="1202" y="599" width="1" height="4"/>
<rect x="1202" y="603" width="1" height="1" fill-opacity="0.45"/>
<rect x="916" y="351" width="4" height="1"/>
<rect x="915" y="351" width="1" height="1" fill-opacity="0.45"/>
<rect x="1272" y="599" width="1" height="4"/>
<rect x="1272" y="603" width="1" height="1" fill-opacity="0.45"/>
<rect x="916" y="290" width="4" height="1"/>
<rect x="915" y="290" width="1" height="1" fill-opacity="0.45"/>
<rect x="1343" y="599" width="1" height="4"/>
<rect x="1343" y="603" width="1" height="1" fill-opacity="0.45"/>
<rect x="916" y="228" width="4" height="1"/>
<rect x="915" y="228" width="1" height="1" fill-opacity="0.45"/>
<rect x="1413" y="599" width="1" height="4"/>
<rect x="1413" y="603" width="1" height="1" fill-opacity="0.45"/>
<rect x="916" y="166" width="4" height="1"/>
<rect x="915" y="166" width="1" height="1" fill-opacity="0.45"/>
<rect x="1484" y="599" width="1" height="4"/>
<rect x="1484" y="603" width="1" height="1" fill-opacity="0.45"/>
<rect x="916" y="105" width="4" height="1"/>
<rect x="915" y="105" width="1" height="1" fill-opacity="0.45"/>
</g>
<path d="M561.25 407.83 A4.95 3.85 0 1 0 563.96 407.61" fill="none" stroke="#000" stroke-width="1.45"/>
<path d="M562.55 407.6 L563.55 407.6 L564.05 419.7 L562.15 419.7 Z" fill="#000"/>
<path fill-rule="evenodd" fill="#000" d="M109.5 370.1 L105.5 380 L114.3 380 Z M109.75 372.6 L107.0 378.6 L112.6 378.6 Z"/>
<text x="104.45" y="104.00" font-size="20.03" font-family='"Liberation Sans", sans-serif' text-anchor="start" textLength="359.73" lengthAdjust="spacingAndGlyphs">Geographic position: 49.2°N 20.22°E</text>
<text x="104.91" y="144.00" font-size="19.98" font-family='"Liberation Sans", sans-serif' text-anchor="start" textLength="203.58" lengthAdjust="spacingAndGlyphs">1989/03/13 05:00:00</text>
<text x="104.40" y="177.00" font-size="14.25" font-family='"Liberation Sans", sans-serif' text-anchor="start" textLength="87.50" lengthAdjust="spacingAndGlyphs" stroke="#000" stroke-width="0.07">YYYY/MM/DD</text>
<text x="224.85" y="176.00" font-size="14.04" font-family='"Liberation Sans", sans-serif' text-anchor="start" textLength="69.20" lengthAdjust="spacingAndGlyphs" stroke="#000" stroke-width="0.02">HH:MM:SS</text>
<text x="663.34" y="184.00" font-size="21.61" font-family='"Liberation Sans", sans-serif' text-anchor="end" textLength="186.81" lengthAdjust="spacingAndGlyphs">Direction ID: 365</text>
<text x="116.71" y="380.00" font-size="19.38" font-family='"Liberation Sans", sans-serif' text-anchor="start" textLength="119.80" lengthAdjust="spacingAndGlyphs">R = 0.01 GV</text>
<text x="104.21" y="420.00" font-size="20.46" font-family='"Liberation Sans", sans-serif' text-anchor="start" textLength="132.52" lengthAdjust="spacingAndGlyphs">Rd = 2.51 GV</text>
<text x="104.11" y="460.00" font-size="19.02" font-family='"Liberation Sans", sans-serif' text-anchor="start" textLength="131.46" lengthAdjust="spacingAndGlyphs" stroke="#000" stroke-width="0.10">Re = 2.69 GV</text>
<text x="104.18" y="500.00" font-size="19.07" font-family='"Liberation Sans", sans-serif' text-anchor="start" textLength="131.35" lengthAdjust="spacingAndGlyphs" stroke="#000" stroke-width="0.06">Ru = 3.02 GV</text>
<text x="104.19" y="540.00" font-size="20.39" font-family='"Liberation Sans", sans-serif' text-anchor="start" textLength="215.17" lengthAdjust="spacingAndGlyphs">Model: Tsyganenko 96</text>
<text x="555.31" y="380.00" font-size="17.81" font-family='"Liberation Serif", serif' text-anchor="start" textLength="11.09" lengthAdjust="spacingAndGlyphs">θ</text>
<text x="575.57" y="380.00" font-size="18.99" font-family='"Liberation Sans", sans-serif' text-anchor="start" textLength="86.04" lengthAdjust="spacingAndGlyphs" stroke="#000" stroke-width="0.13">= 69.89°</text>
<text x="575.71" y="420.00" font-size="19.53" font-family='"Liberation Sans", sans-serif' text-anchor="start" textLength="72.89" lengthAdjust="spacingAndGlyphs">= 40.0°</text>
<text x="152.13" y="720.00" font-size="22.10" font-family='"Liberation Sans", sans-serif' text-anchor="start" textLength="1315.18" lengthAdjust="spacingAndGlyphs">The incoming direction, for which the different cutoff rigidities and the penumbra structure are computed (left panel),</text>
<text x="593.07" y="752.00" font-size="21.84" font-family='"Liberation Sans", sans-serif' text-anchor="start" textLength="428.73" lengthAdjust="spacingAndGlyphs">is signed by the red point (right panel)</text>
<text x="775.94" y="784.00" font-size="14.72" font-family='"Liberation Sans", sans-serif' text-anchor="start" textLength="52.33" lengthAdjust="spacingAndGlyphs">IEP SAS</text>
<text x="1204.31" y="80.00" font-size="22.76" font-family='"Liberation Sans", sans-serif' text-anchor="middle" textLength="14.42" lengthAdjust="spacingAndGlyphs" stroke="#000" stroke-width="0.35">N</text>
<text x="1203.88" y="656.00" font-size="23.13" font-family='"Liberation Sans", sans-serif' text-anchor="middle" textLength="14.32" lengthAdjust="spacingAndGlyphs">S</text>
<text x="851.96" y="360.00" font-size="22.68" font-family='"Liberation Sans", sans-serif' text-anchor="middle" textLength="21.00" lengthAdjust="spacingAndGlyphs" stroke="#000" stroke-width="0.29">W</text>
<text x="1514.18" y="360.00" font-size="22.47" font-family='"Liberation Sans", sans-serif' text-anchor="middle" textLength="11.85" lengthAdjust="spacingAndGlyphs" stroke="#000" stroke-width="0.35">E</text>
<text x="111.07" y="320.00" font-size="13.96" font-family='"Liberation Sans", sans-serif' text-anchor="middle" textLength="20.86" lengthAdjust="spacingAndGlyphs">2.4</text>
<text x="181.81" y="320.00" font-size="14.64" font-family='"Liberation Sans", sans-serif' text-anchor="middle" textLength="20.52" lengthAdjust="spacingAndGlyphs">2.5</text>
<text x="254.26" y="320.00" font-size="14.12" font-family='"Liberation Sans", sans-serif' text-anchor="middle" textLength="21.16" lengthAdjust="spacingAndGlyphs">2.6</text>
<text x="325.86" y="320.00" font-size="14.72" font-family='"Liberation Sans", sans-serif' text-anchor="middle" textLength="20.67" lengthAdjust="spacingAndGlyphs" stroke="#000" stroke-width="0.04">2.7</text>
<text x="397.29" y="320.00" font-size="13.97" font-family='"Liberation Sans", sans-serif' text-anchor="middle" textLength="21.17" lengthAdjust="spacingAndGlyphs">2.8</text>
<text x="469.10" y="320.00" font-size="13.87" font-family='"Liberation Sans", sans-serif' text-anchor="middle" textLength="20.87" lengthAdjust="spacingAndGlyphs">2.9</text>
<text x="540.52" y="320.00" font-size="13.71" font-family='"Liberation Sans", sans-serif' text-anchor="middle" textLength="19.11" lengthAdjust="spacingAndGlyphs" stroke="#000" stroke-width="0.08">3.0</text>
<text x="612.54" y="320.00" font-size="13.78" font-family='"Liberation Sans", sans-serif' text-anchor="middle" textLength="18.78" lengthAdjust="spacingAndGlyphs" stroke="#000" stroke-width="0.07">3.1</text>
<text x="189.61" y="349.00" font-size="14.45" font-family='"Liberation Sans", sans-serif' text-anchor="middle" textLength="16.08" lengthAdjust="spacingAndGlyphs" stroke="#000" stroke-width="0.20">Rd</text>
<text x="319.43" y="349.00" font-size="14.32" font-family='"Liberation Sans", sans-serif' text-anchor="middle" textLength="15.24" lengthAdjust="spacingAndGlyphs" stroke="#000" stroke-width="0.30">Re</text>
<text x="555.22" y="349.00" font-size="13.57" font-family='"Liberation Sans", sans-serif' text-anchor="middle" textLength="14.84" lengthAdjust="spacingAndGlyphs" stroke="#000" stroke-width="0.35">Ru</text>
<text x="919.81" y="618.00" font-size="13.57" font-family='"Liberation Sans", sans-serif' text-anchor="middle" textLength="41.89" lengthAdjust="spacingAndGlyphs" stroke="#000" stroke-width="0.10">−1.00</text>
<text x="909.77" y="603.00" font-size="13.57" font-family='"Liberation Sans", sans-serif' text-anchor="end" textLength="40.95" lengthAdjust="spacingAndGlyphs" stroke="#000" stroke-width="0.13">−1.00</text>
<text x="991.91" y="618.00" font-size="14.72" font-family='"Liberation Sans", sans-serif' text-anchor="middle" textLength="39.58" lengthAdjust="spacingAndGlyphs">−0.75</text>
<text x="909.48" y="542.00" font-size="13.57" font-family='"Liberation Sans", sans-serif' text-anchor="end" textLength="39.81" lengthAdjust="spacingAndGlyphs" stroke="#000" stroke-width="0.11">−0.75</text>
<text x="1062.00" y="618.00" font-size="14.60" font-family='"Liberation Sans", sans-serif' text-anchor="middle" textLength="39.74" lengthAdjust="spacingAndGlyphs">−0.50</text>
<text x="909.82" y="480.00" font-size="13.57" font-family='"Liberation Sans", sans-serif' text-anchor="end" textLength="39.94" lengthAdjust="spacingAndGlyphs" stroke="#000" stroke-width="0.10">−0.50</text>
<text x="1132.63" y="618.00" font-size="13.71" font-family='"Liberation Sans", sans-serif' text-anchor="middle" textLength="40.15" lengthAdjust="spacingAndGlyphs">−0.25</text>
<text x="909.65" y="418.00" font-size="13.57" font-family='"Liberation Sans", sans-serif' text-anchor="end" textLength="39.82" lengthAdjust="spacingAndGlyphs" stroke="#000" stroke-width="0.09">−0.25</text>
<text x="1202.71" y="618.00" font-size="13.83" font-family='"Liberation Sans", sans-serif' text-anchor="middle" textLength="28.67" lengthAdjust="spacingAndGlyphs" stroke="#000" stroke-width="0.07">0.00</text>
<text x="910.12" y="357.00" font-size="13.57" font-family='"Liberation Sans", sans-serif' text-anchor="end" textLength="28.74" lengthAdjust="spacingAndGlyphs" stroke="#000" stroke-width="0.19">0.00</text>
<text x="1273.67" y="618.00" font-size="13.71" font-family='"Liberation Sans", sans-serif' text-anchor="middle" textLength="28.59" lengthAdjust="spacingAndGlyphs">0.25</text>
<text x="909.98" y="295.00" font-size="13.57" font-family='"Liberation Sans", sans-serif' text-anchor="end" textLength="28.54" lengthAdjust="spacingAndGlyphs" stroke="#000" stroke-width="0.13">0.25</text>
<text x="1343.69" y="618.00" font-size="14.58" font-family='"Liberation Sans", sans-serif' text-anchor="middle" textLength="28.66" lengthAdjust="spacingAndGlyphs" stroke="#000" stroke-width="0.02">0.50</text>
<text x="910.00" y="234.00" font-size="13.57" font-family='"Liberation Sans", sans-serif' text-anchor="end" textLength="28.53" lengthAdjust="spacingAndGlyphs" stroke="#000" stroke-width="0.15">0.50</text>
<text x="1414.68" y="618.00" font-size="14.72" font-family='"Liberation Sans", sans-serif' text-anchor="middle" textLength="28.52" lengthAdjust="spacingAndGlyphs" stroke="#000" stroke-width="0.03">0.75</text>
<text x="909.93" y="172.00" font-size="13.57" font-family='"Liberation Sans", sans-serif' text-anchor="end" textLength="28.57" lengthAdjust="spacingAndGlyphs" stroke="#000" stroke-width="0.15">0.75</text>
<text x="1484.84" y="618.00" font-size="14.19" font-family='"Liberation Sans", sans-serif' text-anchor="middle" textLength="28.24" lengthAdjust="spacingAndGlyphs" stroke="#000" stroke-width="0.08">1.00</text>
<text x="908.91" y="110.00" font-size="13.57" font-family='"Liberation Sans", sans-serif' text-anchor="end" textLength="28.24" lengthAdjust="spacingAndGlyphs" stroke="#000" stroke-width="0.21">1.00</text>
</svg></body></html>
